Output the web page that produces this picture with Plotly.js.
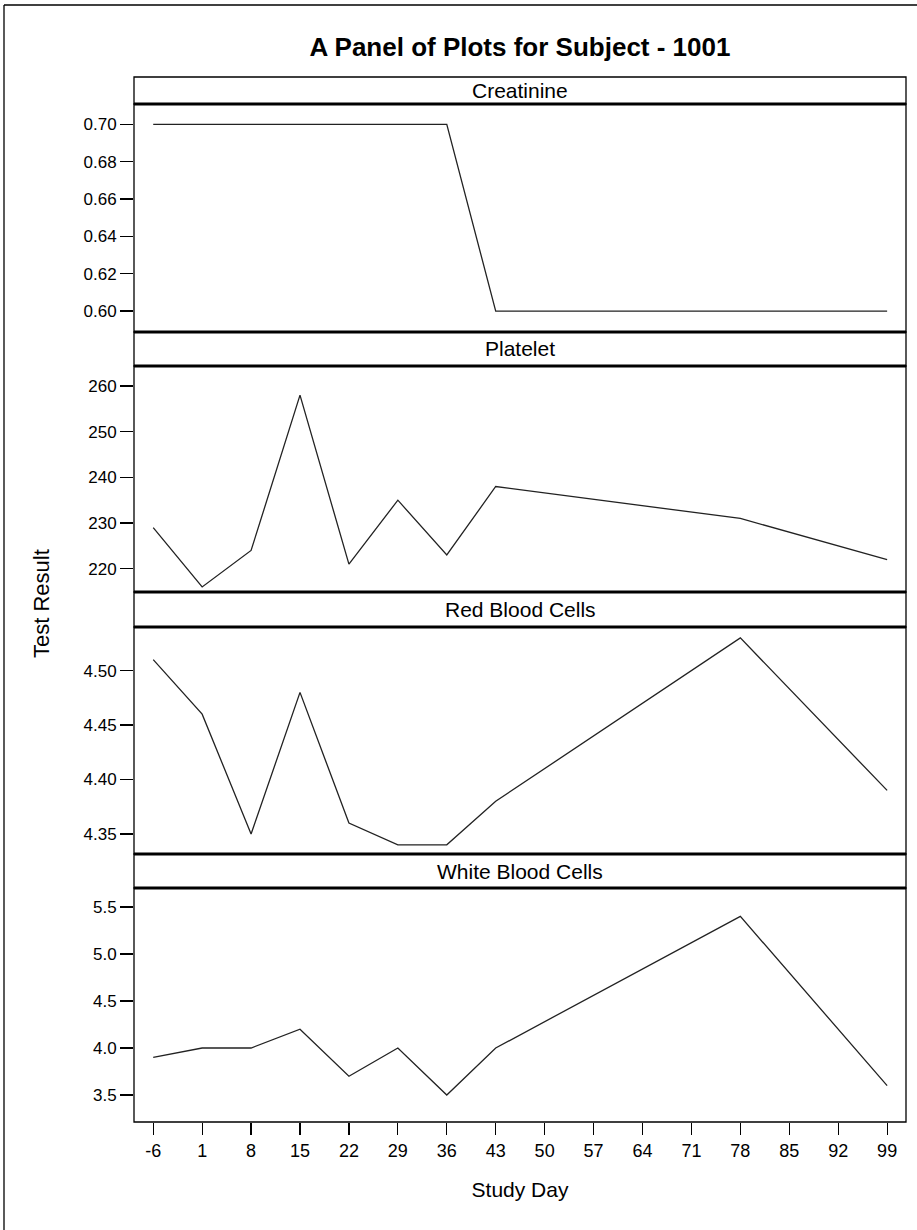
<!DOCTYPE html>
<html>
<head>
<meta charset="utf-8">
<script src="https://cdn.plot.ly/plotly-3.0.1.min.js"></script>
<style>html,body{margin:0;padding:0;background:#fff;}#chart{width:917px;height:1230px;}</style>
</head>
<body>
<div id="chart"></div>
<script>
// ---- Data ----
const days = [-6, 1, 8, 15, 22, 29, 36, 43, 78, 99];
const creatinine = [0.70, 0.70, 0.70, 0.70, 0.70, 0.70, 0.70, 0.60, 0.60, 0.60];
const platelet = [229, 216, 224, 258, 221, 235, 223, 238, 231, 222];
const redBloodCells = [4.51, 4.46, 4.35, 4.48, 4.36, 4.34, 4.34, 4.38, 4.53, 4.39];
const whiteBloodCells = [3.9, 4.0, 4.0, 4.2, 3.7, 4.0, 3.5, 4.0, 5.4, 3.6];
const panelNames = ["Creatinine", "Platelet", "Red Blood Cells", "White Blood Cells"];
const xTickVals = [-6, 1, 8, 15, 22, 29, 36, 43, 50, 57, 64, 71, 78, 85, 92, 99];

const series = [creatinine, platelet, redBloodCells, whiteBloodCells];

// ---- Layout geometry (pixels) ----
const W = 917, H = 1230;
const xL = 134, xR = 906;
const strips = [[77, 104], [332, 366], [592, 627], [854, 888]];
const plots = [[104, 332], [366, 592], [627, 854], [888, 1122]];
const yRanges = [[0.5888, 0.7109], [214.9, 264.38], [4.3316, 4.540], [3.213, 5.702]];
const yFormats = [".2f", "d", ".2f", ".1f"];
const yDticks = [0.02, 10, 0.05, 0.5];

const px = v => v / W;
const py = v => 1 - v / H;
const FONT = "Liberation Sans, Arial, sans-serif";

const traces = series.map((s, i) => ({
  x: days, y: s, type: "scatter", mode: "lines",
  line: {color: "#222", width: 1.3},
  xaxis: i === 0 ? "x" : "x" + (i + 1),
  yaxis: i === 0 ? "y" : "y" + (i + 1),
  hoverinfo: "skip", showlegend: false
}));

const layout = {
  width: W, height: H,
  margin: {l: 0, r: 0, t: 0, b: 0},
  paper_bgcolor: "#fff", plot_bgcolor: "#fff",
  showlegend: false,
  font: {family: FONT, color: "#000", size: 17},
  shapes: [], annotations: []
};

for (let i = 0; i < 4; i++) {
  const xa = i === 0 ? "xaxis" : "xaxis" + (i + 1);
  const ya = i === 0 ? "yaxis" : "yaxis" + (i + 1);
  const last = i === 3;
  layout[xa] = {
    domain: [px(xL), px(xR)],
    anchor: i === 0 ? "y" : "y" + (i + 1),
    range: [-8.75, 101.7],
    tickmode: "array", tickvals: xTickVals, ticktext: xTickVals.map(String),
    showticklabels: last, ticks: last ? "outside" : "", ticklen: 12, tickwidth: 1.2, tickcolor: "#000",
    showgrid: false, zeroline: false, showline: false,
    tickfont: {family: FONT, size: 18, color: "#000"},
    fixedrange: true
  };
  if (last) layout[xa].title = {text: "Study Day", font: {family: FONT, size: 21, color: "#000"}, standoff: 22};
  layout[ya] = {
    domain: [py(plots[i][1]), py(plots[i][0])],
    anchor: i === 0 ? "x" : "x" + (i + 1),
    range: yRanges[i], tickformat: yFormats[i], dtick: yDticks[i], tick0: 0,
    ticks: "outside", ticklen: 13, tickwidth: 1.2, tickcolor: "#000",
    showgrid: false, zeroline: false, showline: false,
    tickfont: {family: FONT, size: 17, color: "#000"},
    fixedrange: true
  };
  // plot border
  layout.shapes.push({type: "rect", xref: "paper", yref: "paper",
    x0: px(xL), x1: px(xR), y0: py(plots[i][1]), y1: py(plots[i][0]),
    line: {color: "#000", width: 1.3}});
  // strip box
  layout.shapes.push({type: "rect", xref: "paper", yref: "paper",
    x0: px(xL), x1: px(xR), y0: py(strips[i][1]), y1: py(strips[i][0]),
    line: {color: "#000", width: 1.3}});
  // thick separator lines
  layout.shapes.push({type: "line", xref: "paper", yref: "paper",
    x0: px(xL), x1: px(xR), y0: py(strips[i][1]), y1: py(strips[i][1]),
    line: {color: "#000", width: 3}});
  if (i > 0) layout.shapes.push({type: "line", xref: "paper", yref: "paper",
    x0: px(xL), x1: px(xR), y0: py(strips[i][0]), y1: py(strips[i][0]),
    line: {color: "#000", width: 3}});
  layout.annotations.push({xref: "paper", yref: "paper",
    x: px((xL + xR) / 2), y: py((strips[i][0] + strips[i][1]) / 2),
    text: panelNames[i], showarrow: false, xanchor: "center", yanchor: "middle",
    font: {family: FONT, size: 21, color: "#000"}});
}

// outer frame (left and top edges)
layout.shapes.push({type: "line", xref: "paper", yref: "paper",
  x0: px(4), x1: px(4), y0: 0, y1: py(5), line: {color: "#000", width: 1.3}});
layout.shapes.push({type: "line", xref: "paper", yref: "paper",
  x0: px(4), x1: 1, y0: py(5), y1: py(5), line: {color: "#000", width: 1.3}});

layout.title = {text: "<b>A Panel of Plots for Subject - 1001</b>",
  x: px((xL + xR) / 2), xanchor: "center", xref: "paper",
  y: py(47), yanchor: "middle", yref: "paper",
  font: {family: FONT, size: 26, color: "#000"}};

layout.annotations.push({xref: "paper", yref: "paper", x: px(42), y: py(604),
  text: "Test Result", textangle: -90, showarrow: false,
  xanchor: "center", yanchor: "middle",
  font: {family: FONT, size: 22, color: "#000"}});

Plotly.newPlot("chart", traces, layout, {staticPlot: true, displayModeBar: false});
</script>
</body>
</html>
